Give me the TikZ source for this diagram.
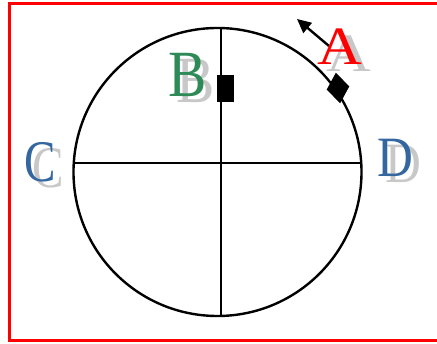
\documentclass[tikz,border=0pt]{standalone}
\usepackage{graphicx}
\usepackage{fontspec}
\setmainfont{Liberation Serif}
\usetikzlibrary{arrows.meta,shapes.geometric}
\definecolor{letterblue}{RGB}{52,102,160}
\definecolor{lettergreen}{RGB}{46,139,87}
\definecolor{shadowgray}{RGB}{200,200,200}
\tikzset{letter/.style={inner sep=0pt,anchor=base},shadow/.style={letter,text=shadowgray},axis/.style={line width=2.4pt},marker/.style={fill=black,inner sep=0pt},arrow/.style={-{Triangle[length=14pt,width=13pt]},line width=2.4pt}}
\begin{document}
\begin{tikzpicture}[x=1pt,y=-1pt]
\useasboundingbox (0,0) rectangle (437,344);
\draw[red,line width=3pt] (9,4) rectangle (440,341);
% wheel and its cross
\node[draw,axis,circle,minimum size=288pt,inner sep=0pt] (wheel) at (217.5,172) {};
\coordinate (north) at (221,28); \coordinate (south) at (221,316);
\coordinate (west) at (74,163); \coordinate (east) at (362,163);
\draw[axis] (north)--(south); \draw[axis] (west)--(east);
% markers on the rim
\node[marker,minimum width=17pt,minimum height=27pt] (markB) at (225.5,88.5) {};
\node[marker,diamond,minimum width=23pt,minimum height=31pt,rotate=8] (markA) at (338,88) {};
\coordinate (tail) at (329,46); \coordinate (tip) at (297,19);
\draw[arrow] (tail)--(tip);
% letters with their shadows
\node[shadow,font=\fontsize{54}{54}\selectfont] (A shadow) at (349,72) {\scalebox{1.15}[1]{A}};
\node[letter,text=red,font=\fontsize{54}{54}\selectfont] (A) at (340,65) {\scalebox{1.15}[1]{A}};
\node[shadow,font=\fontsize{66}{66}\selectfont] (B shadow) at (196,103) {\scalebox{0.87}[1]{B}};
\node[letter,text=lettergreen,font=\fontsize{66}{66}\selectfont] (B) at (188,97) {\scalebox{0.87}[1]{B}};
\node[shadow,font=\fontsize{59}{59}\selectfont] (C shadow) at (48,188) {\scalebox{0.8}[1]{C}};
\node[letter,text=letterblue,font=\fontsize{59}{59}\selectfont] (C) at (40,182) {\scalebox{0.8}[1]{C}};
\node[shadow,font=\fontsize{57}{57}\selectfont] (D shadow) at (403,183) {\scalebox{0.87}[1]{D}};
\node[letter,text=letterblue,font=\fontsize{57}{57}\selectfont] (D) at (395,177) {\scalebox{0.87}[1]{D}};
\end{tikzpicture}
\end{document}
